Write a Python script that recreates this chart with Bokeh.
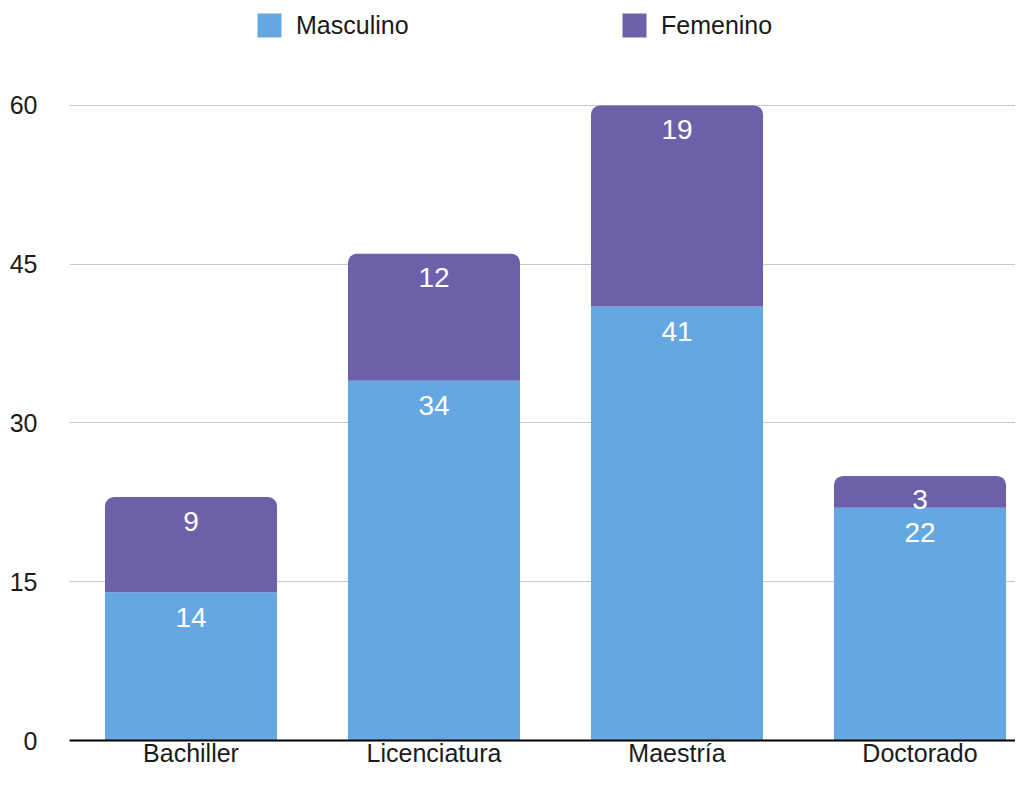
from bokeh.plotting import figure
from bokeh.models import ColumnDataSource, Range1d, FixedTicker, Legend, LegendItem
from bokeh.core.properties import value
from bokeh.embed import file_html
from bokeh.resources import INLINE

categories = ["Bachiller", "Licenciatura", "Maestría", "Doctorado"]
masculino = [14, 34, 41, 22]
femenino = [9, 12, 19, 3]
y_ticks = [0, 15, 30, 45, 60]

FONT = "Liberation Sans"
BLUE = "#64A7E3"
PURPLE = "#6C60AB"

xs = [i + 0.5 for i in range(len(categories))]
tops = [m + f for m, f in zip(masculino, femenino)]
src = ColumnDataSource(dict(
    x=xs, cat=categories, m=masculino, f=femenino, top=tops,
    m_lab=[str(v) for v in masculino], f_lab=[str(v) for v in femenino],
))

p = figure(width=1015, height=769, output_backend="svg", toolbar_location=None,
           x_range=Range1d(0, 3.893), y_range=Range1d(0, 69.92),
           min_border_left=69, min_border_right=0, min_border_top=0, min_border_bottom=29)
p.outline_line_color = None
p.background_fill_color = "white"

r_m = p.vbar(x="x", bottom=0, top="m", width=0.708, source=src, fill_color=BLUE, line_color=None)
r_f = p.vbar(x="x", bottom="m", top="top", width=0.708, source=src, fill_color=PURPLE, line_color=None,
             border_radius=(9, 9, 0, 0))

p.text(x="x", y="m", text="m_lab", source=src, text_color="white", text_font=value(FONT),
       text_font_size="28px", text_align="center", text_baseline="middle", y_offset=25)
p.text(x="x", y="top", text="f_lab", source=src, text_color="white", text_font=value(FONT),
       text_font_size="28px", text_align="center", text_baseline="middle", y_offset=24)

# axes
p.xaxis.ticker = FixedTicker(ticks=xs)
p.xaxis.major_label_overrides = {x: c for x, c in zip(xs, categories)}
p.xaxis.axis_line_color = "black"
p.xaxis.axis_line_width = 2
p.xaxis.major_tick_line_color = None
p.xaxis.minor_tick_line_color = None
p.xaxis.major_label_text_font = FONT
p.xaxis.major_label_text_font_size = "25px"
p.xaxis.major_label_text_color = "#1a1a1a"
p.xaxis.major_label_standoff = -8

p.yaxis.ticker = FixedTicker(ticks=y_ticks)
p.yaxis.axis_line_color = None
p.yaxis.major_tick_line_color = None
p.yaxis.minor_tick_line_color = None
p.yaxis.major_label_text_font = FONT
p.yaxis.major_label_text_font_size = "25px"
p.yaxis.major_label_text_color = "#1a1a1a"
p.yaxis.major_label_standoff = 26

p.xgrid.grid_line_color = None
p.ygrid.ticker = FixedTicker(ticks=y_ticks[1:])
p.ygrid.grid_line_color = "#c8c8c8"
p.ygrid.grid_line_width = 1

legend = Legend(items=[LegendItem(label="Masculino", renderers=[r_m]),
                       LegendItem(label="Femenino", renderers=[r_f])],
                orientation="horizontal", location=(185, 700),
                glyph_width=30, glyph_height=30, label_standoff=12, label_width=120,
                spacing=203, padding=0, margin=0,
                border_line_color=None, background_fill_alpha=0,
                label_text_font=FONT, label_text_font_size="25px", label_text_color="#1a1a1a")
p.add_layout(legend, "center")

open("out.html", "w").write(file_html(p, INLINE))
